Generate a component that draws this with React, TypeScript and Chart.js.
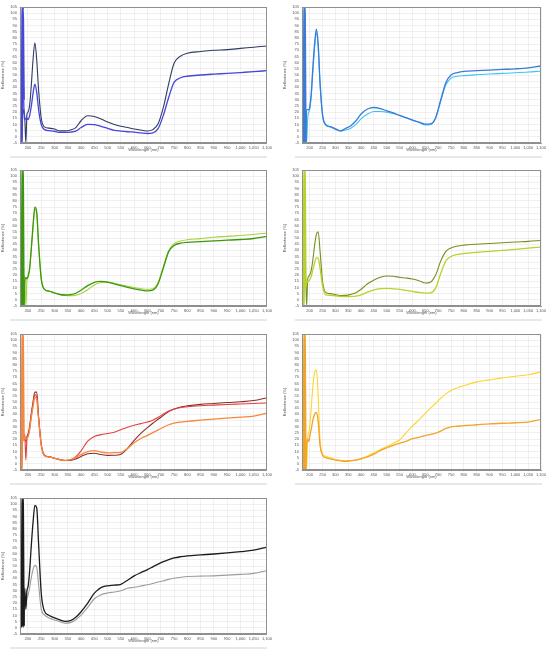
import React, { useEffect, useRef } from "react";
import { Chart, registerables } from "chart.js";

Chart.register(...registerables);

// ---------- data ----------
const WAVELENGTH = [
  172, 176, 180, 184, 188, 192, 196, 200,
  206, 212, 219, 226, 233, 240, 250, 262,
  280, 300, 320, 340, 360, 380, 400,
  425, 450, 475, 500, 525, 550, 575, 600, 625, 650,
  670, 690, 710, 730, 750, 775, 800,
  850, 900, 950, 1000, 1050, 1100,
];

const X_TICKS = [200, 250, 300, 350, 400, 450, 500, 550, 600, 650, 700, 750, 800, 850, 900, 950, 1000, 1050, 1100];

const P1_DARK = [
  10, 30, 18, 22, 15, -5, 18, 20,
  25, 40, 62, 76, 62, 38, 15, 8,
  7, 6.3, 4.8, 4.8, 5.5, 7.5, 13,
  17, 16.5, 14.5, 12, 10, 8.5, 7.5, 6.3, 5.5, 4.7,
  5.8, 10.5, 24, 43, 59.5, 65.4, 67.6,
  69, 70, 70.5, 71.5, 72.5, 73.5,
];
const P1_BLUE = [
  -5, -5, 105, 30, 14, 15, 15, 14,
  17, 24, 35, 42.5, 36, 22, 10, 5.8,
  5, 4.5, 3.6, 3.6, 3.8, 4.6, 7.5,
  10, 9.8, 8.5, 6.8, 5.3, 4.6, 4.1, 3.8, 3.2, 2.7,
  3.2, 6.6, 17.5, 32, 44, 47.8, 49,
  50, 50.7, 51.3, 52, 52.7, 53.5,
];

const P2_BLUE = [
  20, -5, 105, -5, 22, 22, 22, 24,
  35, 55, 75, 87, 75, 45, 18, 10,
  8.3, 6.5, 4.8, 6.8, 9, 13, 18.5,
  22.5, 23.7, 22.8, 21, 19.3, 17.3, 15.5, 13.5, 11.8, 10.3,
  10.5, 15.5, 30, 44, 50, 52, 53,
  53.5, 54, 54.5, 55, 55.8, 57.3,
];
const P2_CYAN = [
  -5, 30, 15, 22, -5, 15, 20, 22,
  33, 52, 72, 84, 72, 43, 17, 9.5,
  8, 6, 4.8, 5.5, 7, 10, 14.5,
  18.5, 20.5, 20.5, 20, 18.8, 17.3, 15.5, 13.5, 11.8, 9.5,
  10, 15, 29, 42, 47.5, 49, 49.5,
  50.2, 50.8, 51.3, 51.8, 52.4, 53.2,
];

const P3_DARK = [
  20, -5, 105, -5, 15, 18, 17, 19,
  25, 40, 60, 75, 71, 45, 17, 8.5,
  7, 5.5, 4.3, 3.9, 4.2, 5.3, 7.8,
  11.5, 14.2, 14.9, 14.3, 12.8, 11.5, 10.1, 8.8, 7.9, 7.2,
  7.8, 13, 26, 39, 44, 45.8, 46.5,
  47, 47.6, 48.2, 48.8, 49.6, 51.3,
];
const P3_LIGHT = [
  10, 50, 10, 20, 16, -5, 16, 18,
  24, 39, 58, 73, 69, 44, 17, 8.5,
  7, 5.5, 4.3, 3.6, 3.4, 3.8, 5.2,
  8.2, 12, 14, 14.3, 13.4, 12.2, 11, 9.9, 9, 8.5,
  9, 14, 27, 40, 45.5, 47.5, 48.6,
  49.5, 50.6, 51.3, 52, 52.8, 54,
];

const P4_OLIVE = [
  15, 35, 18, 20, -5, 16, 19, 20,
  24, 32, 44, 53, 55, 40, 15, 6,
  5, 4.3, 3.5, 3.6, 4.4, 5.8, 8.5,
  13, 16, 18.3, 19.3, 19, 18.2, 17.6, 16.8, 15.5, 13.6,
  14.3, 20, 31.5, 39.2, 42, 43.5, 44.2,
  45, 45.6, 46.2, 46.8, 47.3, 48,
];
const P4_LIGHT = [
  -5, -5, 105, 10, 16, 14, 15, 16,
  19, 24, 30, 34, 34, 26, 11, 4,
  3.6, 3.3, 2.7, 2.6, 2.7, 3, 4,
  6.3, 8, 9, 9.3, 8.9, 8.4, 7.6, 6.8, 6, 5.4,
  5.7, 9.5, 21.5, 31.5, 35, 36.7, 37.5,
  38.4, 39.2, 40, 40.8, 41.8, 42.7,
];

const P5_MAROON = [
  15, 38, 20, 24, 20, 18, 22, 24,
  30, 40, 50, 58, 58, 38, 16, 7,
  5.6, 4.5, 3.4, 2.7, 2.8, 4, 6,
  8.2, 8.6, 7.5, 6.8, 6.9, 7.8, 12.5, 19, 24.6, 29.3,
  32.8, 36, 39.2, 42.3, 44.3, 46, 46.9,
  48.1, 48.8, 49.6, 50.2, 51.2, 53.5,
];
const P5_RED = [
  -5, 30, 22, 20, 24, 3, 20, 22,
  28, 38, 48, 56, 54, 37, 15, 6.8,
  5.6, 4.5, 3.4, 2.7, 3.2, 5.8, 10.5,
  18.3, 22, 23.6, 24.5, 25.6, 27.6, 29.6, 31.2, 32.5, 33.9,
  35.3, 37.6, 40.3, 42.7, 44.2, 45.5, 46.2,
  47, 47.5, 48, 48.4, 48.8, 49.2,
];
const P5_ORANGE = [
  -5, -5, 105, 19, 22, 20, 21, 22,
  27, 37, 46, 54, 52, 36, 15, 6.5,
  5.5, 4.5, 3.5, 2.7, 3.3, 5, 7.5,
  9.8, 10.7, 9.5, 8.8, 9, 9.2, 12.5, 17, 20.5, 23,
  25.2, 27.4, 29.6, 31.6, 33, 33.8, 34.3,
  35.3, 36.2, 37, 37.8, 38.6, 41,
];

const P6_YELLOW = [
  20, 30, 22, 18, -5, 20, 25, 30,
  45, 62, 74, 76, 55, 20, 8, 6.2,
  5, 3.5, 2.8, 2.6, 2.6, 2.9, 3.8,
  6.4, 9, 11.6, 14, 16.5, 19.5, 25, 30.5, 35.5, 40.8,
  45, 49, 53, 56.6, 59.3, 61.5, 63.2,
  66.3, 67.9, 69.5, 70.8, 72, 74.4,
];
const P6_GOLD = [
  -5, -5, 105, -5, 16, 20, 18, 22,
  28, 35, 40, 41.5, 34, 15, 7, 5,
  4, 3, 2.4, 2, 2.4, 3.2, 4.2,
  5.7, 7.8, 10.8, 13, 15, 16.6, 18.2, 20.3, 21.4, 22.9,
  23.8, 24.8, 26.5, 28.6, 29.9, 30.4, 30.9,
  31.6, 32.3, 32.8, 33.2, 33.8, 35.9,
];

const P7_BLACK = [
  30, 1, 105, 1, 32, 15, 30, 33,
  45, 65, 85, 99, 97, 68, 28, 13.5,
  10, 8, 6.4, 5.2, 5.8, 8.5, 13,
  20, 28, 32.5, 34, 34.5, 35.2, 38.5, 42, 44.7, 47.1,
  49.3, 51.5, 53.5, 55.2, 56.5, 57.5, 58.2,
  59, 59.7, 60.6, 61.6, 62.8, 65.3,
];
const P7_GRAY = [
  10, 60, 20, 28, 25, 18, 24, 26,
  32, 40, 47, 50.5, 49, 35, 15, 10.5,
  8, 6.3, 5, 3.8, 4.2, 6.5, 10.2,
  16.5, 23.5, 26.7, 28.2, 29, 30, 32, 32.8, 33.8, 34.8,
  35.8, 37, 38, 39.2, 40.1, 40.9, 41.5,
  41.8, 42, 42.6, 43.2, 44, 46.4,
];

// ---------- layout / style ----------
type Series = { values: number[]; color: string; width?: number; spike?: boolean };
type PanelCfg = { left: number; top: number; width: number; padRight: number; series: Series[] };

const ROW_TOPS = [0, 163, 327, 491];
const CANVAS_H = 152;

// first series in each list is drawn on top
const PANELS: PanelCfg[] = [
  { left: 0, top: ROW_TOPS[0], width: 272, padRight: 5, series: [
    { values: P1_BLUE, color: "#4646d8", width: 1.3, spike: true },
    { values: P1_DARK, color: "#2f3b63" },
  ] },
  { left: 282, top: ROW_TOPS[0], width: 268, padRight: 9, series: [
    { values: P2_BLUE, color: "#3b7ad9", width: 1.3, spike: true },
    { values: P2_CYAN, color: "#3cc3f0" },
  ] },
  { left: 0, top: ROW_TOPS[1], width: 272, padRight: 5, series: [
    { values: P3_DARK, color: "#3a980f", width: 1.3, spike: true },
    { values: P3_LIGHT, color: "#a8d13a" },
  ] },
  { left: 282, top: ROW_TOPS[1], width: 268, padRight: 9, series: [
    { values: P4_LIGHT, color: "#b8d22c", width: 1.3, spike: true },
    { values: P4_OLIVE, color: "#72901f" },
  ] },
  { left: 0, top: ROW_TOPS[2], width: 272, padRight: 5, series: [
    { values: P5_ORANGE, color: "#f5883e", width: 1.3, spike: true },
    { values: P5_RED, color: "#e0423c" },
    { values: P5_MAROON, color: "#8e2b2b" },
  ] },
  { left: 282, top: ROW_TOPS[2], width: 268, padRight: 9, series: [
    { values: P6_GOLD, color: "#f0a42c", width: 1.3, spike: true },
    { values: P6_YELLOW, color: "#ffd42a" },
  ] },
  { left: 0, top: ROW_TOPS[3], width: 272, padRight: 5, series: [
    { values: P7_BLACK, color: "#1c1c1c", width: 1.3, spike: true },
    { values: P7_GRAY, color: "#9c9c9c" },
  ] },
];

const FONT = "'Liberation Sans', 'DejaVu Sans', sans-serif";

const framePlugin = {
  id: "plotFrame",
  afterDraw(chart: any) {
    const { ctx, chartArea } = chart;
    const { left, top, right, bottom } = chartArea;
    ctx.save();
    ctx.strokeStyle = "#8f8f8f";
    ctx.lineWidth = 1;
    ctx.strokeRect(Math.round(left) + 0.5, Math.round(top) + 0.5, Math.round(right - left) - 1, Math.round(bottom - top) - 1);
    ctx.restore();
  },
};

function Panel({ cfg }: { cfg: PanelCfg }) {
  const ref = useRef<HTMLCanvasElement>(null);
  useEffect(() => {
    if (!ref.current) return;
    const chart = new Chart(ref.current, {
      type: "line",
      data: {
        datasets: cfg.series.map((s) => ({
          data: WAVELENGTH.map((x, i) => ({ x, y: s.values[i] })),
          borderColor: s.color,
          borderWidth: s.width ?? 1.1,
          pointRadius: 0,
          fill: false,
          cubicInterpolationMode: "monotone" as const,
          segment: {
            borderWidth: (ctx: any) => (s.spike && ctx.p1.parsed.x <= 184 ? 2.4 : undefined),
          },
        })),
      },
      options: {
        animation: false,
        responsive: false,
        events: [],
        layout: { padding: { top: 7, right: cfg.padRight, left: 0, bottom: 0 } },
        plugins: { legend: { display: false }, tooltip: { enabled: false } },
        scales: {
          x: {
            type: "linear",
            min: 170,
            max: 1100,
            afterBuildTicks: (scale: any) => {
              scale.ticks = X_TICKS.map((v) => ({ value: v }));
            },
            afterFit: (scale: any) => {
              scale.height = 9;
            },
            ticks: {
              autoSkip: false,
              maxRotation: 0,
              padding: 0,
              color: "#555",
              font: { size: 4, family: FONT },
              callback: (v: any) => Number(v).toLocaleString("en-US"),
            },
            grid: { color: "#e6e6e6", lineWidth: 0.6, tickLength: 2 },
            border: { color: "#8f8f8f" },
            title: { display: true, text: "Wavelength (nm)", color: "#555", font: { size: 4, family: FONT }, padding: 0 },
          },
          y: {
            min: -5,
            max: 105,
            afterFit: (scale: any) => {
              scale.width = 20;
            },
            ticks: {
              stepSize: 5,
              autoSkip: false,
              padding: 1,
              color: "#555",
              font: { size: 4, family: FONT },
            },
            grid: { color: "#e6e6e6", lineWidth: 0.6, tickLength: 2 },
            border: { color: "#8f8f8f" },
            title: { display: true, text: "Reflectance (%)", color: "#555", font: { size: 4, family: FONT }, padding: 0 },
          },
        },
      },
      plugins: [framePlugin],
    } as any);
    return () => chart.destroy();
  }, [cfg]);
  return (
    <canvas
      ref={ref}
      width={cfg.width}
      height={CANVAS_H}
      style={{ position: "absolute", left: cfg.left, top: cfg.top, width: cfg.width, height: CANVAS_H }}
    />
  );
}

export default function App() {
  const separators: { left: number; top: number; width: number }[] = [];
  ROW_TOPS.forEach((t, r) => {
    separators.push({ left: 10, top: t + 156, width: 257 });
    if (r < 3) separators.push({ left: 295, top: t + 156, width: 247 });
  });
  return (
    <div style={{ position: "absolute", left: 0, top: 0, width: 550, height: 654, background: "#fff", overflow: "hidden" }}>
      {PANELS.map((p, i) => (
        <Panel key={i} cfg={p} />
      ))}
      {separators.map((s, i) => (
        <div key={"s" + i} style={{ position: "absolute", left: s.left, top: s.top, width: s.width, height: 2, background: "#e8e8e8" }} />
      ))}
    </div>
  );
}
